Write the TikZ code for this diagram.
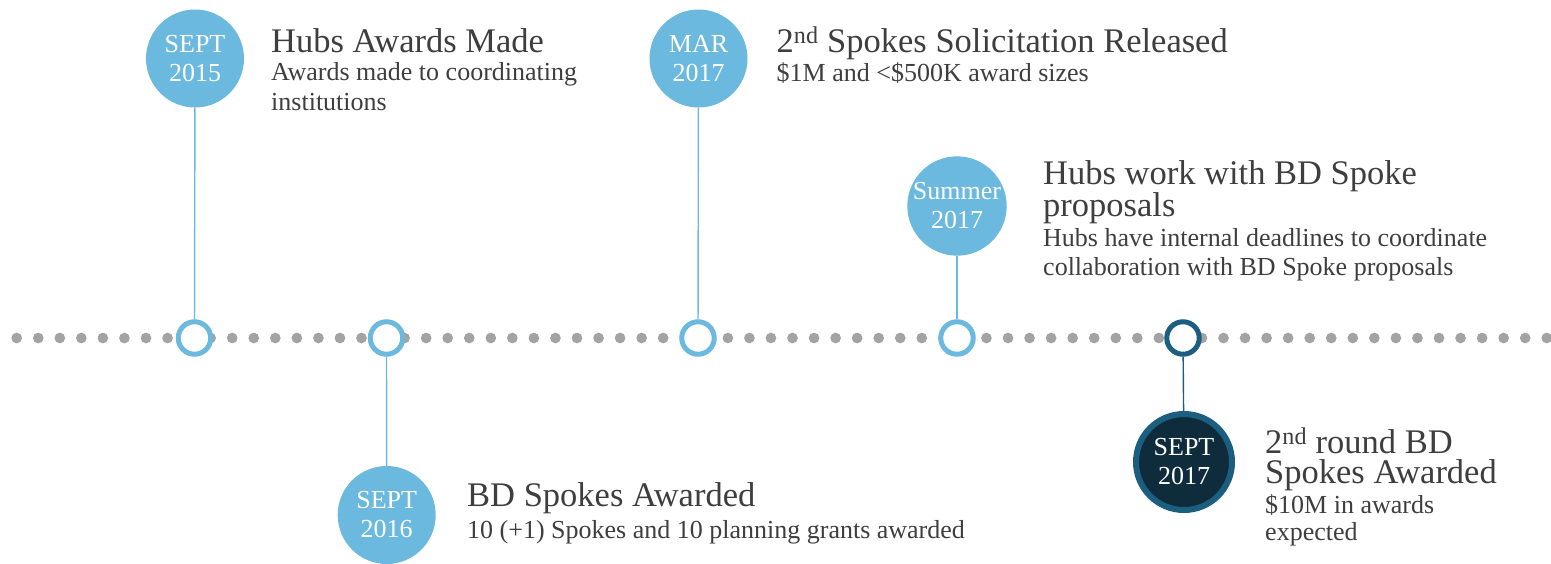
\documentclass[tikz,border=0pt]{standalone}
\usepackage{fontspec}
\setmainfont{Liberation Serif}
\newfontfamily\bodyserif{Liberation Serif}
\definecolor{lblue}{RGB}{107,185,222}
\definecolor{dotgray}{RGB}{163,163,163}
\definecolor{txt}{RGB}{62,62,62}
\definecolor{dring}{RGB}{27,94,128}
\definecolor{dfill}{RGB}{15,44,60}
\begin{document}
\begin{tikzpicture}[x=1pt,y=-1pt,
  datebig/.style={circle, fill=lblue, minimum size=98pt, inner sep=0pt, text=white,
    align=center, font=\bodyserif\fontsize{26}{29}\selectfont},
  datedark/.style={circle, fill=dfill, draw=dring, line width=6pt, minimum size=96pt,
    inner sep=0pt, text=white, align=center, font=\bodyserif\fontsize{26}{29}\selectfont},
  ring/.style={circle, draw=lblue, line width=5pt, fill=white, minimum size=32.5pt, inner sep=0pt},
  darkring/.style={ring, draw=dring},
  conn/.style={draw=lblue, line width=1.4pt},
  darkconn/.style={draw=dring, line width=1.4pt},
  ttl/.style={anchor=base west, inner sep=0pt, text=txt, align=left,
    font=\bodyserif\fontsize{34.5}{28.5}\selectfont},
  ttltwo/.style={ttl, font=\bodyserif\fontsize{34.5}{30}\selectfont},
  subtxt/.style={anchor=base west, inner sep=0pt, text=txt, align=left,
    font=\bodyserif\fontsize{26}{29.5}\selectfont},
  subtwo/.style={subtxt, font=\bodyserif\fontsize{26}{26.5}\selectfont},
  subfour/.style={subtxt, font=\bodyserif\fontsize{26}{28.5}\selectfont},
  dots/.style={draw=dotgray, line width=10.7pt, line cap=round, dash pattern=on 0pt off 21.55pt}
]
\useasboundingbox (0,0) rectangle (1551,563);

% dotted timeline
\coordinate (dl) at (16.7,338);
\coordinate (dr) at (1547.5,338);
\draw[dots] (dl) -- (dr);

% rings on the timeline
\node[ring] (r1) at (194.5,338) {};
\node[ring] (r2) at (386.5,338) {};
\node[ring] (r3) at (698,338) {};
\node[ring] (r4) at (957,338) {};
\node[darkring] (r5) at (1183,338) {};

% date circles
\node[datebig] (c1) at (195,58.5) {SEPT\\2015};
\node[datebig] (c3) at (698.5,58.5) {MAR\\2017};
\node[datebig] (c4) at (957,206) {Summer\\2017};
\node[datebig] (c2) at (386.7,515) {SEPT\\2016};
\node[datedark] (c5) at (1184,462) {SEPT\\2017};

% connectors
\draw[conn] (c1) -- (r1);
\draw[conn] (c3) -- (r3);
\draw[conn] (c4) -- (r4);
\draw[conn] (r2) -- (c2);
\draw[darkconn] (r5) -- (c5);

% texts (base anchor of a multi-line node = baseline of its last line)
\node[ttl] (t1) at (271,52.5) {Hubs Awards Made};
\node[subtxt] (s1) at (271,110) {Awards made to coordinating\\institutions};

\node[ttl] (t3) at (776.5,52.5) {2\textsuperscript{nd} Spokes Solicitation Released};
\node[subtxt] (s3) at (776.5,81) {\$1M and <\$500K award sizes};

\node[ttl] (t4) at (1043,216.5) {Hubs work with BD Spoke\\proposals};
\node[subfour] (s4) at (1043,275) {Hubs have internal deadlines to coordinate\\collaboration with BD Spoke proposals};

\node[ttl] (t2) at (467,506.5) {BD Spokes Awarded};
\node[subtxt] (s2) at (467,538) {10 (+1) Spokes and 10 planning grants awarded};

\node[ttltwo] (t5) at (1265,483.5) {2\textsuperscript{nd} round BD\\Spokes Awarded};
\node[subtwo] (s5) at (1265,540) {\$10M in awards\\expected};
\end{tikzpicture}
\end{document}
